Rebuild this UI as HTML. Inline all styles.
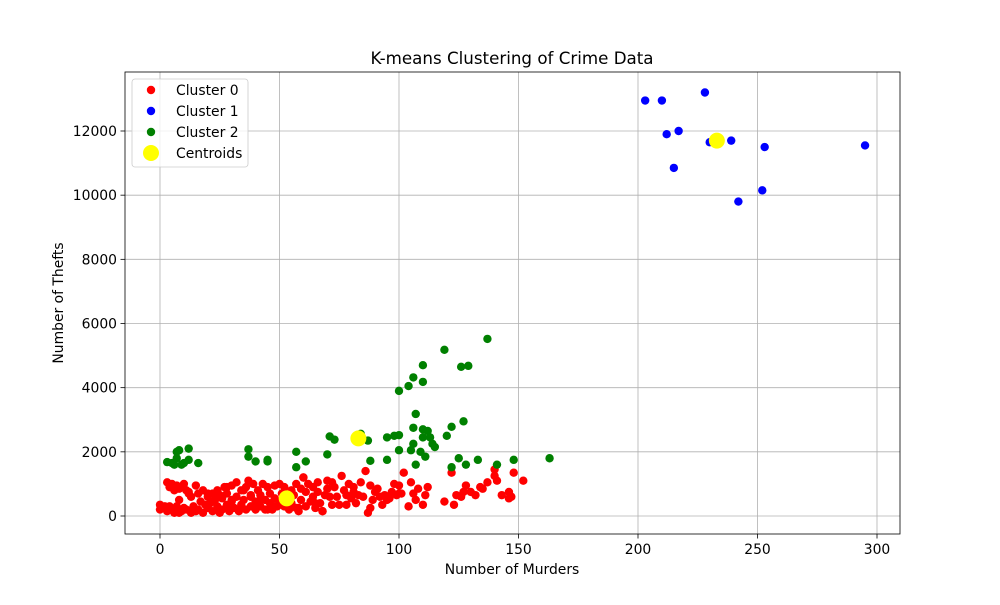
<!DOCTYPE html>
<html><head><meta charset="utf-8"><style>
body{margin:0;background:#fff;font-family:"Liberation Sans","DejaVu Sans",sans-serif}
svg text{font-family:"DejaVu Sans","Liberation Sans",sans-serif}
</style></head><body>
<svg id="chart" width="1000" height="600">
<rect width="1000" height="600" fill="#fff"/>
<g id="grid"></g><g id="marks"></g><g id="axes"></g>
</svg>
<script>
const xTicks=[0,50,100,150,200,250,300];
const yTicks=[0,2000,4000,6000,8000,10000,12000];
const c0x=[0,0,1,2,3,3,4,4,5,5,6,6,7,7,8,8,9,9,10,10,11,11,12,13,13,14,15,15,16,16,17,18,18,19,20,20,21,22,22,23,24,24,25,26,26,27,28,28,29,30,30,31,32,32,33,34,34,35,36,36,37,38,38,39,40,40,41,42,42,43,44,44,45,46,46,47,48,48,49,50,50,51,52,52,53,54,55,55,56,57,57,58,59,59,60,61,61,62,63,64,64,65,66,66,67,68,69,70,70,71,72,72,73,74,75,76,77,78,79,80,81,81,82,83,84,85,86,87,88,89,90,91,92,93,94,95,96,97,98,99,100,100,101,102,104,105,106,107,108,110,111,112,119,122,123,124,126,127,128,130,132,134,135,137,140,140,141,143,146,146,147,148,152,60,30,20,45,8,25,35,55,65,48,12,28,38,58,68,78,88,42];
const c0y=[350,200,250,300,150,1050,900,300,1000,200,800,100,950,300,850,100,900,150,1000,250,800,200,750,600,100,300,150,950,200,700,450,100,800,350,600,250,400,700,150,500,800,300,650,200,550,900,350,700,150,950,450,250,1050,600,150,800,350,500,900,200,1100,600,300,1000,450,200,800,650,300,1000,500,200,900,400,700,200,950,550,300,1000,450,700,300,900,550,200,800,400,650,250,1000,150,850,500,1200,300,750,1000,450,600,900,250,750,1050,400,150,650,1100,850,600,350,1050,900,600,350,1250,800,650,1000,550,750,900,400,650,1050,600,1400,100,950,500,750,850,600,350,650,500,550,750,1000,650,700,950,700,1350,300,1050,700,500,850,350,650,900,450,1350,350,650,600,750,950,750,650,900,850,1050,1450,1250,1100,650,550,750,600,1350,1100,1200,500,700,200,500,100,800,600,400,300,700,900,650,250,150,350,250,500,700,400,250,450];
const c1x=[203,210,212,217,228,230,215,239,242,252,253,295];
const c1y=[12950,12950,11900,12000,13200,11650,10850,11700,9800,10150,11500,11550];
const c2x=[3,5,6,7,8,7,9,10,12,12,16,37,37,40,45,45,57,57,61,70,71,73,84,87,88,95,95,98,100,100,100,104,105,106,106,106,107,107,109,110,110,110,110,111,112,113,114,115,119,120,122,122,125,126,127,128,129,133,137,141,148,163];
const c2y=[1680,1650,1600,2000,2050,1800,1600,1650,2100,1750,1650,2080,1850,1700,1750,1700,2000,1520,1700,1920,2480,2380,2560,2350,1720,2450,1750,2500,2520,3900,2050,4050,2050,4320,2750,2250,3180,1600,2000,4700,4180,2700,2450,1850,2650,2450,2250,2150,5180,2500,2780,1520,1800,4650,2950,1600,4680,1750,5520,1600,1750,1800];
const cenX=[53,83,233];
const cenY=[550,2420,11700];
const L=125,R=900,T=72,B=534;
const X=v=>160+(v)*717/300;
const Y=v=>516-v*385/12000;
const NS="http://www.w3.org/2000/svg";
function mk(t,a,p){const e=document.createElementNS(NS,t);for(const k in a)e.setAttribute(k,a[k]);p.appendChild(e);return e;}
const grid=document.getElementById('grid'),marks=document.getElementById('marks'),axes=document.getElementById('axes');
xTicks.forEach(v=>{
 const g=mk('line',{x1:X(v),x2:X(v),y1:T,y2:B,stroke:'#b0b0b0','stroke-width':0.8},grid);
 
 
 mk('line',{x1:X(v),x2:X(v),y1:B,y2:B+4.5,stroke:'#000','stroke-width':0.8},axes);
 const t=mk('text',{x:X(v),y:B+20,'text-anchor':'middle','font-size':13.9,fill:'#000'},axes);t.textContent=v;
 
 
});
yTicks.forEach(v=>{
 const g=mk('line',{x1:L,x2:R,y1:Y(v),y2:Y(v),stroke:'#b0b0b0','stroke-width':0.8},grid);
 
 
 mk('line',{x1:L-4.5,x2:L,y1:Y(v),y2:Y(v),stroke:'#000','stroke-width':0.8},axes);
 const t=mk('text',{x:L-8,y:Y(v)+5,'text-anchor':'end','font-size':13.9,fill:'#000'},axes);t.textContent=v;
 
 
});
function pts(xs,ys,col,r,name){xs.forEach((v,i)=>{const c=mk('circle',{cx:X(v),cy:Y(ys[i]),r:r,fill:col},marks);
 
 });}
pts(c0x,c0y,'#ff0000',4.2,'cluster-0-point');
pts(c1x,c1y,'#0000ff',4.2,'cluster-1-point');
pts(c2x,c2y,'#008000',4.2,'cluster-2-point');
pts(cenX,cenY,'#ffff00',8,'centroid-point');
mk('rect',{x:L,y:T,width:R-L,height:B-T,fill:'none',stroke:'#000','stroke-width':0.8},axes);
function txt(s,a,name){const t=mk('text',a,axes);t.textContent=s;
 
 return t;}
txt('K-means Clustering of Crime Data',{x:512,y:64,'text-anchor':'middle','font-size':16.7},'chart-title');
txt('Number of Murders',{x:512,y:574,'text-anchor':'middle','font-size':13.9},'x-axis-title');
txt('Number of Thefts',{x:63,y:303,'text-anchor':'middle','font-size':13.9,transform:'rotate(-90 63 303)'},'y-axis-title');
const lg=mk('g',{},axes);


mk('rect',{x:132,y:79,width:116,height:88,rx:3,fill:'#fff','fill-opacity':0.8,stroke:'#ccc','stroke-width':0.8},lg);
const labs=['Cluster 0','Cluster 1','Cluster 2','Centroids'],cols=['#ff0000','#0000ff','#008000','#ffff00'],rs=[4.2,4.2,4.2,8];
labs.forEach((s,i)=>{const y=90+i*21;mk('circle',{cx:151,cy:y,r:rs[i],fill:cols[i]},lg);
 const t=mk('text',{x:176,y:y+5,'font-size':13.9},lg);t.textContent=s;
 
 });
</script>
</body></html>
